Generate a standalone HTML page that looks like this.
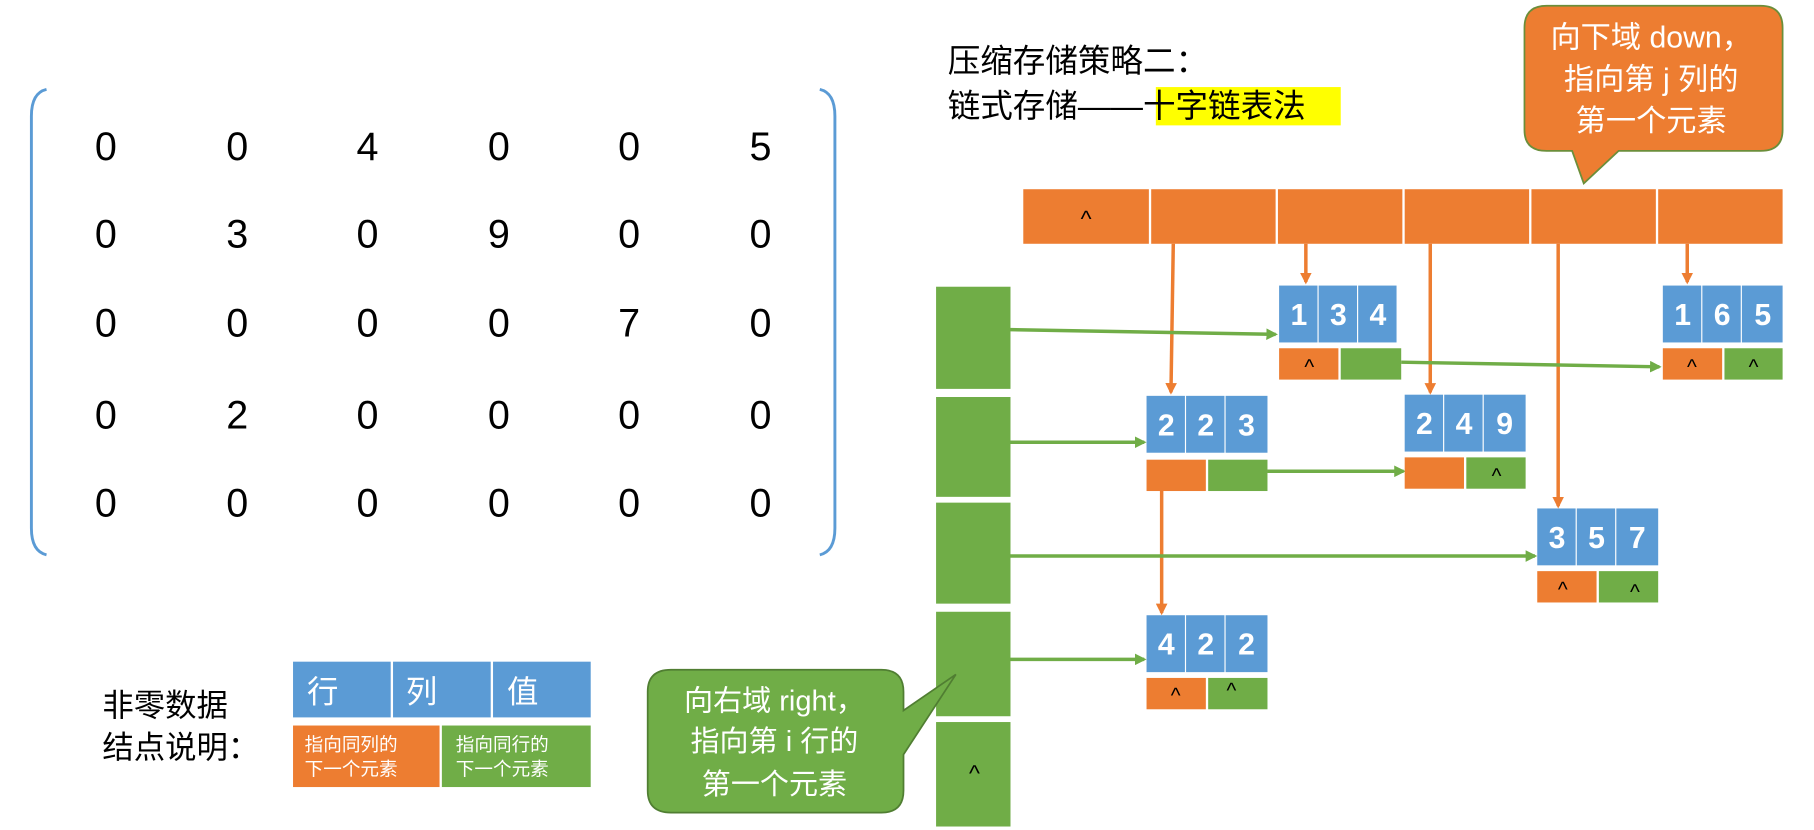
<!DOCTYPE html>
<html><head><meta charset="utf-8"><style>
html,body{margin:0;padding:0;background:#fff;}
svg{display:block;}
text{font-family:"Liberation Sans","Noto Sans CJK SC",sans-serif;}
</style></head><body>
<svg width="1814" height="830" viewBox="0 0 1560 715" preserveAspectRatio="none" xmlns="http://www.w3.org/2000/svg">
<defs>
<marker id="ao" markerWidth="10" markerHeight="10" refX="8" refY="5" orient="auto" markerUnits="userSpaceOnUse"><path d="M0,0 L10,5 L0,10 z" fill="#ED7D31"/></marker>
<marker id="ag" markerWidth="10" markerHeight="10" refX="8" refY="5" orient="auto" markerUnits="userSpaceOnUse"><path d="M0,0 L10,5 L0,10 z" fill="#70AD47"/></marker>
</defs>
<!-- matrix brackets -->
<path d="M40,77 Q27,80 27,100 L27,455 Q27,475 40,478" fill="none" stroke="#5B9BD5" stroke-width="2.5"/>
<path d="M705,77 Q718,80 718,100 L718,455 Q718,475 705,478" fill="none" stroke="#5B9BD5" stroke-width="2.5"/>
<g font-size="34" text-anchor="middle" fill="#000">
<text x="91" y="138">0</text><text x="204" y="138">0</text><text x="316" y="138">4</text><text x="429" y="138">0</text><text x="541" y="138">0</text><text x="654" y="138">5</text>
<text x="91" y="213">0</text><text x="204" y="213">3</text><text x="316" y="213">0</text><text x="429" y="213">9</text><text x="541" y="213">0</text><text x="654" y="213">0</text>
<text x="91" y="290">0</text><text x="204" y="290">0</text><text x="316" y="290">0</text><text x="429" y="290">0</text><text x="541" y="290">7</text><text x="654" y="290">0</text>
<text x="91" y="369">0</text><text x="204" y="369">2</text><text x="316" y="369">0</text><text x="429" y="369">0</text><text x="541" y="369">0</text><text x="654" y="369">0</text>
<text x="91" y="445">0</text><text x="204" y="445">0</text><text x="316" y="445">0</text><text x="429" y="445">0</text><text x="541" y="445">0</text><text x="654" y="445">0</text>
</g>
<!-- title -->
<rect x="994" y="75" width="159" height="33" fill="#FFFF00"/>
<text x="815" y="62" font-size="28" fill="#000">压缩存储策略二：</text>
<text x="815" y="101" font-size="28" fill="#000">链式存储——十字链表法</text>
<!-- orange callout -->
<path d="M1330,5 L1514,5 Q1533,5 1533,24 L1533,112 Q1533,130 1514,130 L1392,130 L1362,158 L1352,130 L1330,130 Q1311,130 1311,112 L1311,24 Q1311,5 1330,5 z" fill="#ED7D31" stroke="#6b8e3a" stroke-width="1.5"/>
<g font-size="26" fill="#fff" text-anchor="middle">
<text x="1420" y="41">向下域 down，</text>
<text x="1420" y="77">指向第 j 列的</text>
<text x="1420" y="113">第一个元素</text>
</g>
<!-- top bar -->
<g fill="#ED7D31">
<rect x="880" y="163" width="108" height="47"/><rect x="990" y="163" width="107" height="47"/><rect x="1099" y="163" width="107" height="47"/><rect x="1208" y="163" width="107" height="47"/><rect x="1317" y="163" width="107" height="47"/><rect x="1426" y="163" width="107" height="47"/>
</g>
<text x="934" y="195" font-size="20" text-anchor="middle">^</text>
<!-- green column -->
<g fill="#70AD47">
<rect x="805" y="247" width="64" height="88"/><rect x="805" y="342" width="64" height="86"/><rect x="805" y="433" width="64" height="87"/><rect x="805" y="527" width="64" height="90"/><rect x="805" y="622" width="64" height="90"/>
</g>
<text x="838" y="673" font-size="20" text-anchor="middle">^</text>
<!-- arrows orange -->
<g stroke="#ED7D31" stroke-width="3" fill="none">
<line x1="1009" y1="210" x2="1007" y2="338" marker-end="url(#ao)"/>
<line x1="1123" y1="210" x2="1123" y2="243" marker-end="url(#ao)"/>
<line x1="1230" y1="210" x2="1230" y2="338" marker-end="url(#ao)"/>
<line x1="1340" y1="210" x2="1340" y2="436" marker-end="url(#ao)"/>
<line x1="1451" y1="210" x2="1451" y2="243" marker-end="url(#ao)"/>
<line x1="999" y1="422" x2="999" y2="528" marker-end="url(#ao)"/>
</g>
<!-- arrows green -->
<g stroke="#70AD47" stroke-width="3" fill="none">
<line x1="869" y1="284" x2="1097" y2="288" marker-end="url(#ag)"/>
<line x1="869" y1="381" x2="984" y2="381" marker-end="url(#ag)"/>
<line x1="1090" y1="406" x2="1207" y2="406" marker-end="url(#ag)"/>
<line x1="1205" y1="312" x2="1427" y2="316" marker-end="url(#ag)"/>
<line x1="869" y1="479" x2="1320" y2="479" marker-end="url(#ag)"/>
<line x1="869" y1="568" x2="984" y2="568" marker-end="url(#ag)"/>
</g>
<!-- nodes -->
<g font-size="26" font-weight="bold" fill="#fff" text-anchor="middle">
<!-- 134 -->
<rect x="1100" y="246" width="33" height="49" fill="#5B9BD5"/><rect x="1134" y="246" width="33" height="49" fill="#5B9BD5"/><rect x="1168" y="246" width="33" height="49" fill="#5B9BD5"/>
<text x="1117" y="280">1</text><text x="1151" y="280">3</text><text x="1185" y="280">4</text>
<!-- 165 -->
<rect x="1430" y="246" width="33" height="49" fill="#5B9BD5"/><rect x="1464" y="246" width="33" height="49" fill="#5B9BD5"/><rect x="1498" y="246" width="35" height="49" fill="#5B9BD5"/>
<text x="1447" y="280">1</text><text x="1481" y="280">6</text><text x="1516" y="280">5</text>
<!-- 223 -->
<rect x="986" y="341" width="33" height="49" fill="#5B9BD5"/><rect x="1020" y="341" width="33" height="49" fill="#5B9BD5"/><rect x="1054" y="341" width="36" height="49" fill="#5B9BD5"/>
<text x="1003" y="375">2</text><text x="1037" y="375">2</text><text x="1072" y="375">3</text>
<!-- 249 -->
<rect x="1208" y="340" width="33" height="49" fill="#5B9BD5"/><rect x="1242" y="340" width="33" height="49" fill="#5B9BD5"/><rect x="1276" y="340" width="36" height="49" fill="#5B9BD5"/>
<text x="1225" y="374">2</text><text x="1259" y="374">4</text><text x="1294" y="374">9</text>
<!-- 357 -->
<rect x="1322" y="438" width="33" height="49" fill="#5B9BD5"/><rect x="1356" y="438" width="33" height="49" fill="#5B9BD5"/><rect x="1390" y="438" width="36" height="49" fill="#5B9BD5"/>
<text x="1339" y="472">3</text><text x="1373" y="472">5</text><text x="1408" y="472">7</text>
<!-- 422 -->
<rect x="986" y="530" width="33" height="49" fill="#5B9BD5"/><rect x="1020" y="530" width="33" height="49" fill="#5B9BD5"/><rect x="1054" y="530" width="36" height="49" fill="#5B9BD5"/>
<text x="1003" y="564">4</text><text x="1037" y="564">2</text><text x="1072" y="564">2</text>
</g>
<!-- pointer cells -->
<g>
<rect x="1100" y="300" width="51" height="27" fill="#ED7D31"/><rect x="1153" y="300" width="52" height="27" fill="#70AD47"/>
<rect x="1430" y="300" width="51" height="27" fill="#ED7D31"/><rect x="1483" y="300" width="50" height="27" fill="#70AD47"/>
<rect x="986" y="396" width="51" height="27" fill="#ED7D31"/><rect x="1039" y="396" width="51" height="27" fill="#70AD47"/>
<rect x="1208" y="394" width="51" height="27" fill="#ED7D31"/><rect x="1261" y="394" width="51" height="27" fill="#70AD47"/>
<rect x="1322" y="492" width="51" height="27" fill="#ED7D31"/><rect x="1375" y="492" width="51" height="27" fill="#70AD47"/>
<rect x="986" y="584" width="51" height="27" fill="#ED7D31"/><rect x="1039" y="584" width="51" height="27" fill="#70AD47"/>
</g>
<g font-size="18" text-anchor="middle" fill="#000">
<text x="1126" y="322">^</text>
<text x="1455" y="322">^</text><text x="1508" y="322">^</text>
<text x="1287" y="416">^</text>
<text x="1344" y="514">^</text><text x="1406" y="516">^</text>
<text x="1011" y="605">^</text><text x="1059" y="601">^</text>
</g>
<!-- green callout -->
<path d="M577,577 L758,577 Q777,577 777,596 L777,612 L822,581 L777,650 L777,681 Q777,700 758,700 L577,700 Q557,700 557,681 L557,596 Q557,577 577,577 z" fill="#70AD47" stroke="#507e32" stroke-width="1.5"/>
<g font-size="25" fill="#fff" text-anchor="middle">
<text x="666" y="612">向右域 right，</text>
<text x="666" y="647">指向第 i 行的</text>
<text x="666" y="684">第一个元素</text>
</g>
<!-- legend -->
<text x="88" y="617" font-size="27" fill="#000">非零数据</text>
<text x="88" y="653" font-size="27" fill="#000">结点说明：</text>
<rect x="252" y="570" width="84" height="48" fill="#5B9BD5"/><rect x="338" y="570" width="84" height="48" fill="#5B9BD5"/><rect x="424" y="570" width="84" height="48" fill="#5B9BD5"/>
<g font-size="27" fill="#fff"><text x="264" y="605">行</text><text x="349" y="605">列</text><text x="436" y="605">值</text></g>
<rect x="252" y="625" width="126" height="53" fill="#ED7D31"/><rect x="380" y="625" width="128" height="53" fill="#70AD47"/>
<g font-size="16" fill="#fff">
<text x="262" y="647">指向同列的</text><text x="262" y="668">下一个元素</text>
<text x="392" y="647">指向同行的</text><text x="392" y="668">下一个元素</text>
</g>
</svg>
</body></html>
